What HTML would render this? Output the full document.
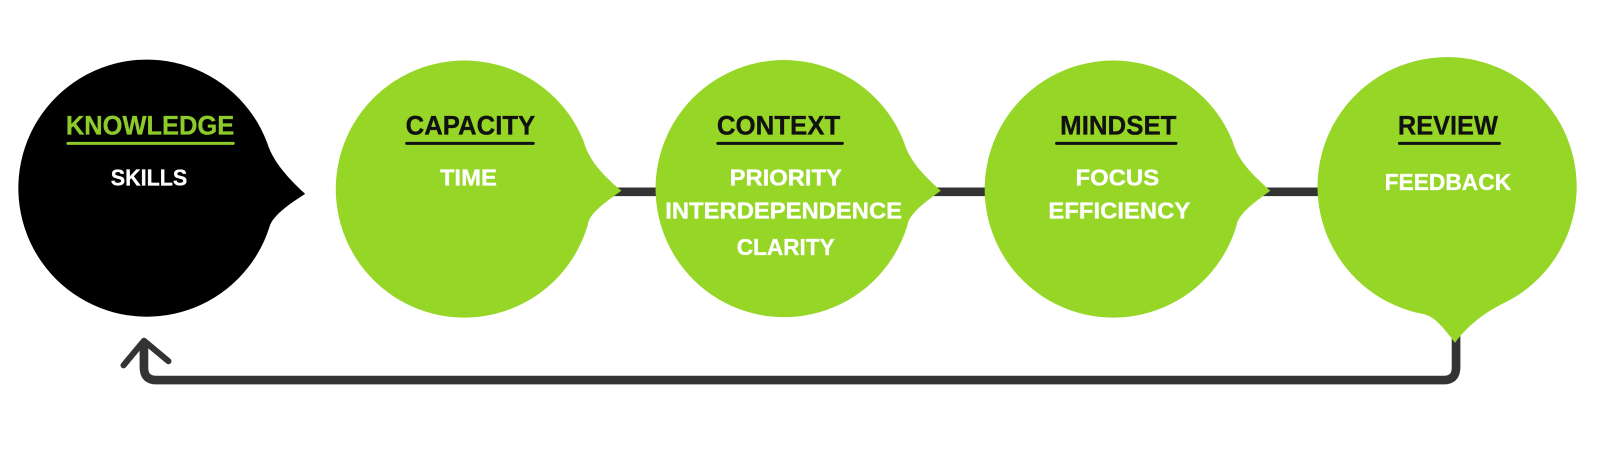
<!DOCTYPE html>
<html><head><meta charset="utf-8"><style>
html,body{margin:0;padding:0;background:#fff;width:1600px;height:452px;overflow:hidden}
svg{display:block}
text{font-family:"Liberation Sans",sans-serif;font-weight:700;text-anchor:middle}
.h{font-size:26px;fill:#111;stroke:#111;stroke-width:.3}
.w{font-size:23px;fill:#fff;stroke:#fff;stroke-width:.3}
</style></head><body>
<svg width="1600" height="452" viewBox="0 0 1568 443" xmlns="http://www.w3.org/2000/svg">
<g fill="none" stroke="#333" stroke-linejoin="round" stroke-linecap="round">
<path d="M600 188H650M915 188H970M1238 188H1298" stroke-width="8.5" stroke-linecap="butt"/>
<path d="M1427 325V360Q1427 372.500 1415 372.500H153Q141 372.500 141 360V338" stroke-width="8.500"/>
<path d="M121 358L141 334L165 354" stroke-width="6"/>
</g>
<path fill="#000" d="M262 140.500C268 160 285 177 299 190C285 199 267 211 264 222.500A126 126 0 1 1 262 140.500Z"/>
<path fill="#96d626" d="M572 138.500C578 160 595 175 609 187C595 197 577 209 576 220.500A126 126 0 1 1 572 138.500Z"/>
<path fill="#96d626" d="M886 139.500C892 160 909 175 922 187C908 197 891 209 889 221.500A126 126 0 1 1 886 139.500Z"/>
<path fill="#96d626" d="M1208 138.500C1214 160 1232 175 1245 187C1231 197 1214 209 1212 220.500A126 126 0 1 1 1208 138.500Z"/>
<path fill="#96d626" d="M1396 308C1408 311 1418 326 1426 336C1436 322 1452 308 1472 298A127 127 0 1 0 1396 308Z"/>
<text class="h" x="147" y="132" textLength="165" lengthAdjust="spacingAndGlyphs" style="fill:#8ccb2a;stroke:#8ccb2a">KNOWLEDGE</text>
<rect x="65" y="139" width="165" height="3" rx="1.5" fill="#8ccb2a"/>
<text class="w" x="146" y="182" textLength="75" lengthAdjust="spacingAndGlyphs">SKILLS</text>
<text class="h" x="461" y="132" textLength="127" lengthAdjust="spacingAndGlyphs">CAPACITY</text>
<rect x="397" y="139" width="127" height="3" rx="1.5" fill="#111"/>
<text class="w" x="459" y="182" textLength="56" lengthAdjust="spacingAndGlyphs">TIME</text>
<text class="h" x="763" y="132" textLength="121" lengthAdjust="spacingAndGlyphs">CONTEXT</text>
<rect x="702" y="139" width="125" height="3" rx="1.5" fill="#111"/>
<text class="w" x="770" y="182" textLength="110" lengthAdjust="spacingAndGlyphs">PRIORITY</text>
<text class="w" x="768" y="214" textLength="232" lengthAdjust="spacingAndGlyphs">INTERDEPENDENCE</text>
<text class="w" x="770" y="250" textLength="96" lengthAdjust="spacingAndGlyphs">CLARITY</text>
<text class="h" x="1096" y="132" textLength="114" lengthAdjust="spacingAndGlyphs">MINDSET</text>
<rect x="1034" y="139" width="120" height="3" rx="1.5" fill="#111"/>
<text class="w" x="1095" y="182" textLength="82" lengthAdjust="spacingAndGlyphs">FOCUS</text>
<text class="w" x="1097" y="214" textLength="139" lengthAdjust="spacingAndGlyphs">EFFICIENCY</text>
<text class="h" x="1419" y="132" textLength="98" lengthAdjust="spacingAndGlyphs">REVIEW</text>
<rect x="1370" y="139" width="101" height="3" rx="1.5" fill="#111"/>
<text class="w" x="1419" y="186" textLength="124" lengthAdjust="spacingAndGlyphs">FEEDBACK</text>
</svg>
</body></html>
